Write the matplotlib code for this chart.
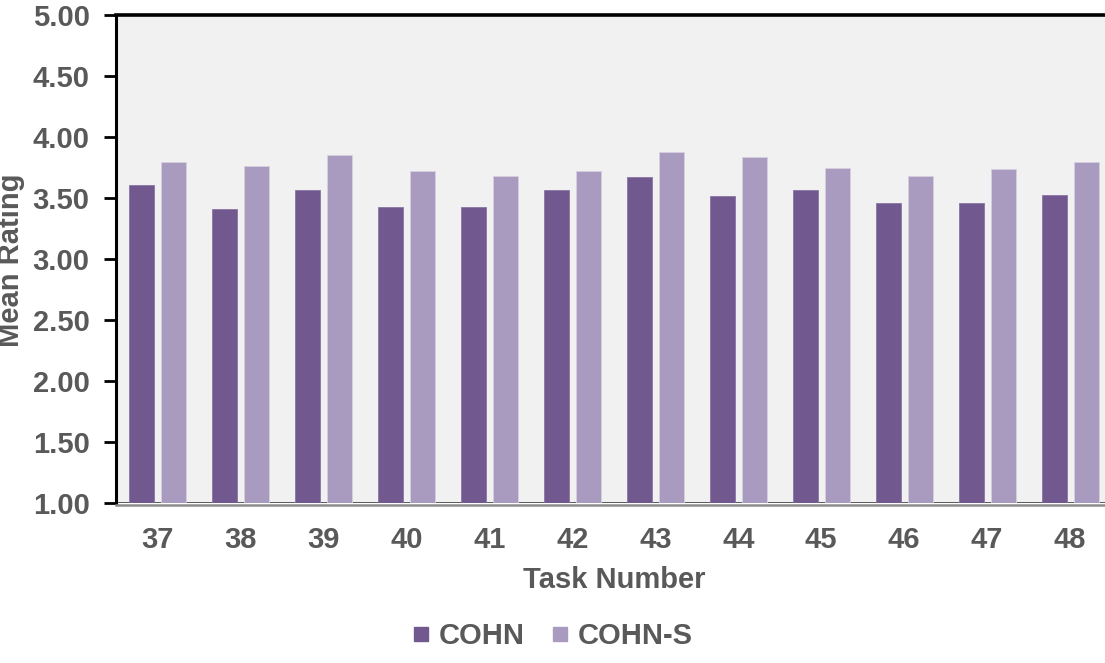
import numpy as np
import matplotlib
matplotlib.use('Agg')
import matplotlib.pyplot as plt
from matplotlib.lines import Line2D

plt.rcParams['font.family'] = ['Liberation Sans', 'DejaVu Sans']
plt.rcParams['font.weight'] = 'bold'

# Data
tasks = ['37', '38', '39', '40', '41', '42', '43', '44', '45', '46', '47', '48']
cohn = [3.61, 3.41, 3.57, 3.43, 3.43, 3.57, 3.67, 3.52, 3.57, 3.46, 3.46, 3.53]
cohn_s = [3.80, 3.76, 3.85, 3.72, 3.68, 3.72, 3.88, 3.84, 3.75, 3.68, 3.74, 3.80]
yticks = [1.0, 1.5, 2.0, 2.5, 3.0, 3.5, 4.0, 4.5, 5.0]

dark = '#71588f'
light = '#a99bc0'
grey_text = '#595959'
fs = 21

fig = plt.figure(figsize=(11.05, 6.63), dpi=100)
ax = fig.add_axes([0.105, 0.2413, 0.901, 0.7357])
ax.set_facecolor('#f1f1f1')

x = np.arange(len(tasks))
w = 0.30
off = 0.193
ax.bar(x - off, np.array(cohn) - 1, w, bottom=1, color=dark, edgecolor='#8a76a3', linewidth=0.6, zorder=2)
ax.bar(x + off, np.array(cohn_s) - 1, w, bottom=1, color=light, edgecolor='#d6cfe0', linewidth=0.6, zorder=2)
ax.axhline(1.0, color='#404040', linewidth=1.2, zorder=1)

ax.set_xlim(-0.5, len(tasks) - 0.5)
ax.set_ylim(1, 5)
ax.set_yticks(yticks)
ax.set_yticklabels([f'{v:.2f}' for v in yticks])
ax.set_xticks(x)
ax.set_xticklabels(tasks)

ax.tick_params(axis='y', length=9, width=2, color='black', labelsize=fs, labelcolor=grey_text, pad=10)
ax.tick_params(axis='x', length=0, labelsize=fs, labelcolor=grey_text, pad=15)

for side in ['left', 'top']:
    ax.spines[side].set_color('black')
ax.spines['left'].set_linewidth(2.2)
ax.spines['top'].set_linewidth(2.6)
ax.spines['right'].set_visible(False)
ax.spines['bottom'].set_color('#8c8c8c')
ax.spines['bottom'].set_linewidth(1.8)
ax.spines['bottom'].set_position(('outward', 1.2))

ax.set_xlabel('Task Number', fontsize=fs, color=grey_text, fontweight='bold', labelpad=9)
fig.text(11 / 1105, 1 - 260 / 663, 'Mean Rating', rotation=90, ha='center', va='center',
         fontsize=fs, color=grey_text, fontweight='bold')

handles = [
    Line2D([0], [0], marker='s', color='none', markerfacecolor=dark, markeredgecolor=dark, markersize=10.5, label='COHN'),
    Line2D([0], [0], marker='s', color='none', markerfacecolor=light, markeredgecolor=light, markersize=10.5, label='COHN-S'),
]
leg = fig.legend(handles=handles, loc='center', bbox_to_anchor=(0.5, 1 - 636 / 663), ncol=2,
                 frameon=False, fontsize=fs, handlelength=0.6, handletextpad=0.3, columnspacing=0.9)
for t in leg.get_texts():
    t.set_color(grey_text)

fig.savefig('out.png', dpi=100)
